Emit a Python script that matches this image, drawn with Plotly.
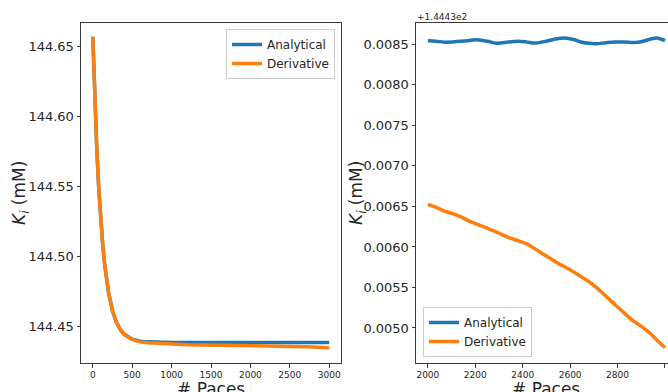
import plotly.graph_objects as go

# ---------------- data ----------------
paces = [0, 25, 50, 75, 100, 125, 150, 200, 250, 300, 350, 400, 500, 600, 700, 800,
         1000, 1200, 1400, 1600, 1800,
         2000, 2035, 2070, 2105, 2140, 2170, 2200, 2250, 2290, 2340, 2380, 2415, 2450,
         2485, 2520, 2545, 2570, 2610, 2650, 2680, 2710, 2750, 2790, 2830, 2870, 2905,
         2940, 2970, 3000]

analytical = [144.6571, 144.6127, 144.5773, 144.5491, 144.5266, 144.5087, 144.4945,
              144.4741, 144.4611, 144.4529, 144.4477, 144.4444, 144.4409, 144.4395,
              144.4390, 144.43875, 144.43862, 144.43856, 144.43853, 144.43856, 144.43852,
              144.438545, 144.438538, 144.438527, 144.438530, 144.438537, 144.438545,
              144.438555, 144.438538, 144.438514, 144.438528, 144.438537, 144.438530,
              144.438516, 144.438530, 144.438553, 144.438568, 144.438578, 144.438562,
              144.438526, 144.438512, 144.438508, 144.438520, 144.438529, 144.438528,
              144.438521, 144.438535, 144.438566, 144.438576, 144.438545]

derivative = [144.6571, 144.6127, 144.5773, 144.5491, 144.5266, 144.5087, 144.4945,
              144.4741, 144.4611, 144.4529, 144.4476, 144.4442, 144.4406, 144.4390,
              144.4383, 144.4379, 144.4371, 144.4369, 144.4368, 144.4367, 144.4366,
              144.436525, 144.436488, 144.436442, 144.436410, 144.436370, 144.436325,
              144.436289, 144.436231, 144.436183, 144.436118, 144.436077, 144.436040,
              144.435980, 144.435912, 144.435852, 144.435805, 144.435765, 144.435700,
              144.435625, 144.435570, 144.435500, 144.435395, 144.435286, 144.435180,
              144.435080, 144.435010, 144.434927, 144.434840, 144.434760]

zoom_start = 2000
right_offset = 144.43
right_offset_label = "+1.4443e2"
right_ticks = [0.0050, 0.0055, 0.0060, 0.0065, 0.0070, 0.0075, 0.0080, 0.0085]
left_ticks = [144.45, 144.50, 144.55, 144.60, 144.65]
left_xticks = [0, 500, 1000, 1500, 2000, 2500, 3000]
right_xticks = [2000, 2200, 2400, 2600, 2800, 3000]
names = ["Analytical", "Derivative"]
colors = ["#1f77b4", "#ff7f0e"]

# ---------------- figure ----------------
W, H = 668, 392
T, B = 23, 29
FONT = "DejaVu Sans"
TXT = "#262626"
AX = "#3a3a3a"

def px_x(p):
    return p / W

def px_y(p):
    return (H - B - p) / (H - T - B)

fig = go.Figure()

idx = [i for i, p in enumerate(paces) if p >= zoom_start]
zp = [paces[i] for i in idx]

for k, series in enumerate([analytical, derivative]):
    fig.add_trace(go.Scatter(x=paces, y=series, mode="lines", name=names[k],
                             line=dict(color=colors[k], width=3.5),
                             xaxis="x", yaxis="y", legend="legend"))
for k, series in enumerate([analytical, derivative]):
    fig.add_trace(go.Scatter(x=zp, y=[series[i] for i in idx], mode="lines", name=names[k],
                             line=dict(color=colors[k], width=3.5, shape="spline", smoothing=1.0),
                             xaxis="x2", yaxis="y2", legend="legend2"))

axis_common = dict(showline=True, mirror=True, linecolor=AX, linewidth=1,
                   ticks="outside", ticklen=3.5, tickcolor=AX, tickwidth=1,
                   showgrid=False, zeroline=False)

fig.update_layout(
    width=W, height=H,
    margin=dict(l=0, r=0, t=T, b=B),
    paper_bgcolor="white", plot_bgcolor="white",
    font=dict(family=FONT, color=TXT),
    xaxis=dict(domain=[px_x(81), px_x(341)], range=[-150, 3150],
               tickvals=left_xticks, tickfont=dict(size=9), anchor="y", **axis_common),
    yaxis=dict(domain=[0, 1], range=[144.4239, 144.6669],
               tickvals=left_ticks, ticktext=[f"{v:.2f}" for v in left_ticks],
               tickfont=dict(size=13), anchor="x", **axis_common),
    xaxis2=dict(domain=[px_x(416), 1.0], range=[1950, 3012.7],
                tickvals=right_xticks, tickfont=dict(size=9), anchor="y2", **axis_common),
    yaxis2=dict(domain=[0, 1], range=[right_offset + 0.004568, right_offset + 0.008763],
                tickvals=[right_offset + v for v in right_ticks],
                ticktext=[f"{v:.4f}" for v in right_ticks],
                tickfont=dict(size=13), anchor="x2", **axis_common),
    legend=dict(x=px_x(335), xanchor="right", y=px_y(29), yanchor="top",
                bgcolor="rgba(255,255,255,0.8)", bordercolor="#cccccc", borderwidth=1,
                font=dict(size=12, color=TXT), itemwidth=30, tracegroupgap=0),
    legend2=dict(x=px_x(423), xanchor="left", y=px_y(357), yanchor="bottom",
                 bgcolor="rgba(255,255,255,0.8)", bordercolor="#cccccc", borderwidth=1,
                 font=dict(size=12, color=TXT), itemwidth=30, tracegroupgap=0),
    showlegend=True,
)

ytitle = "<i>K</i><sub><i>i</i></sub> (mM)"
annos = [
    dict(text=ytitle, x=px_x(20), y=0.5, textangle=-90),
    dict(text=ytitle, x=px_x(357), y=0.5, textangle=-90),
    dict(text="# Paces", x=px_x(211), y=px_y(389)),
    dict(text="# Paces", x=px_x(546), y=px_y(389)),
]
for a in annos:
    fig.add_annotation(xref="paper", yref="paper", showarrow=False,
                       xanchor="center", yanchor="middle",
                       font=dict(size=17, color=TXT, family=FONT), **a)

fig.add_annotation(xref="paper", yref="paper", showarrow=False,
                   x=px_x(415), y=px_y(17), xanchor="left", yanchor="middle",
                   text=right_offset_label, font=dict(size=9, color=TXT, family=FONT))

fig.write_html("out.html")
